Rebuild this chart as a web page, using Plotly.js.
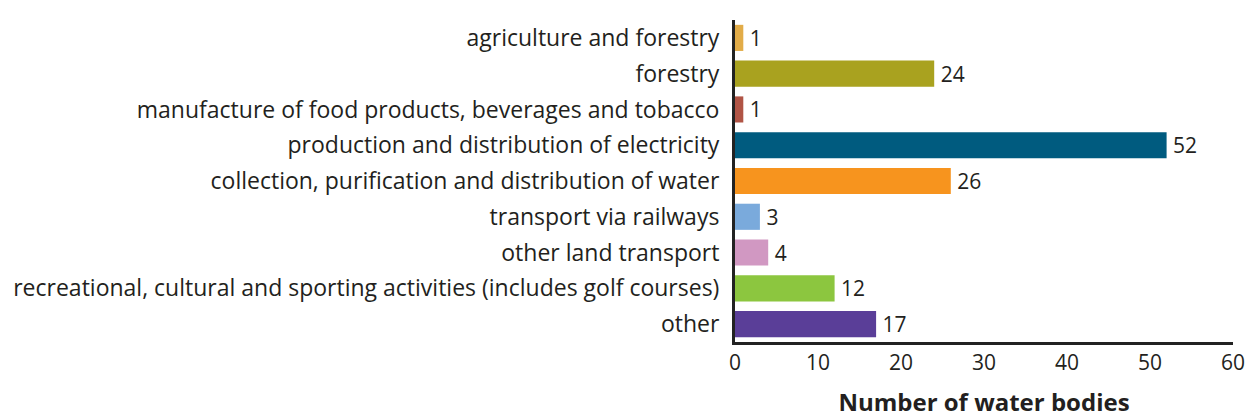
<!DOCTYPE html>
<html><head><meta charset="utf-8">
<script src="https://cdn.plot.ly/plotly-3.0.1.min.js"></script>
<style>html,body{margin:0;padding:0;background:#fff}</style>
</head><body><div id="chart" style="width:1248px;height:418px"></div>
<script>
const categories = [
  "agriculture and forestry",
  "forestry",
  "manufacture of food products, beverages and tobacco",
  "production and distribution of electricity",
  "collection, purification and distribution of water",
  "transport via railways",
  "other land transport",
  "recreational, cultural and sporting activities (includes golf courses)",
  "other"
];
const values = [1, 24, 1, 52, 26, 3, 4, 12, 17];
const barColors = ["#E2AC48","#A9A21F","#B05445","#005B7F","#F7941E","#7AAADC","#D198C2","#8CC63F","#5A3E98"];
const xTicks = [0, 10, 20, 30, 40, 50, 60];

const FONT = "Open Sans, sans-serif";
const INK = "#231F20";
Plotly.newPlot("chart", [{
  type: "bar",
  orientation: "h",
  y: categories,
  x: values,
  marker: {color: barColors},
  text: values.map(v => "\u2009" + v),
  textposition: "outside",
  constraintext: "none",
  cliponaxis: false,
  textfont: {family: FONT, size: 21, color: INK},
  hoverinfo: "none"
}], {
  width: 1248, height: 418,
  margin: {l: 735, r: 15, t: 20, b: 76},
  paper_bgcolor: "#fff", plot_bgcolor: "#fff",
  bargap: 0.27,
  showlegend: false,
  font: {family: FONT, color: INK},
  xaxis: {
    range: [0, 60], tickvals: xTicks, ticks: "", showgrid: false, zeroline: false,
    showline: true, linecolor: "#222", linewidth: 3,
    tickfont: {family: FONT, size: 21, color: INK},
    title: {text: "<b>Number of water bodies</b>", font: {family: FONT, size: 24, color: INK}, standoff: 24},
    fixedrange: true
  },
  yaxis: {
    autorange: "reversed", ticks: "", showgrid: false, zeroline: false,
    showline: true, linecolor: "#222", linewidth: 3,
    tickfont: {family: FONT, size: 23, color: INK},
    ticklabelstandoff: 8,
    fixedrange: true
  }
}, {displayModeBar: false, staticPlot: true});
</script></body></html>
